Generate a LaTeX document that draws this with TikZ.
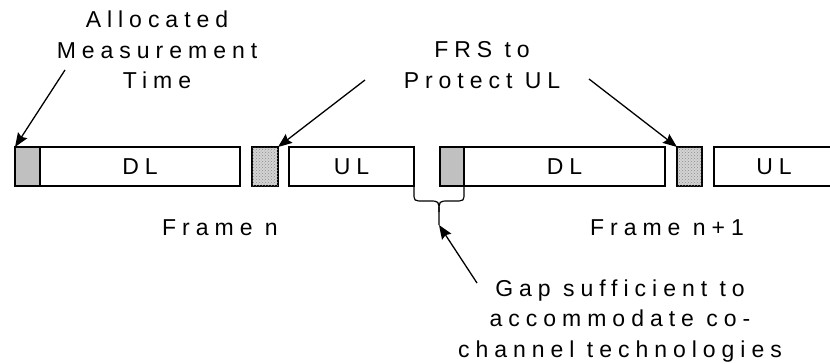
\documentclass[tikz,border=0pt]{standalone}
\usepackage{fontspec}
\setmainfont[LetterSpace=26]{Liberation Sans}
\usetikzlibrary{arrows.meta, positioning, patterns}
\definecolor{mtgray}{HTML}{C0C0C0}
\definecolor{frsgray}{HTML}{D4D4D4}

\begin{document}
\begin{tikzpicture}[x=1pt, y=-1pt, node distance=12pt, font=\fontsize{23}{30.5}\selectfont]
\tikzstyle{slot} = [rectangle, draw=black, line width=1.2pt, fill=white, inner sep=0pt, outer sep=0pt, minimum height=39pt, text centered]
\tikzstyle{mtslot} = [slot, fill=mtgray]
\tikzstyle{frsslot} = [slot, fill=frsgray, postaction={pattern=crosshatch dots, pattern color=black!45}]
\tikzstyle{note} = [align=center, inner sep=0pt]
\tikzstyle{pointer} = [line width=1.3pt, -{Stealth[length=14pt, width=11pt, inset=2pt]}]

\useasboundingbox (0,0) rectangle (830,364);

% Frame n
\node (mtone) [mtslot, minimum width=25pt, anchor=north west] at (15,147) {};
\node (dlone) [slot, minimum width=200pt, right=0pt of mtone] {DL};
\node (frsone) [frsslot, minimum width=26pt, right=12pt of dlone] {};
\node (ulone) [slot, minimum width=125pt, right=11pt of frsone] {UL};

% Frame n+1
\node (mttwo) [mtslot, minimum width=24pt, right=26pt of ulone] {};
\node (dltwo) [slot, minimum width=201pt, right=0pt of mttwo] {DL};
\node (frstwo) [frsslot, minimum width=25pt, right=12pt of dltwo] {};
\node (ultwo) [slot, minimum width=120pt, right=12pt of frstwo] {UL};

% Labels
\node (alloc) [note] at (157,50) {Allocated\\Measurement\\Time};
\node (frs) [note] at (482,65) {FRS to\\Protect UL};
\node (framen) [note] at (220,228) {Frame n};
\node (framenn) [note] at (667,228) {Frame n+1};
\node (gap) [note] at (620,321) {Gap sufficient to\\accommodate co-\\channel technologies};

% Brace under the gap
\coordinate (bracetip) at (439,225);
\draw[line width=1.2pt] (ulone.south east) -- (414,193) .. controls (414,201) .. (424,201) -- (429,201) .. controls (439,201) .. (439,212) -- (bracetip);
\draw[line width=1.2pt] (mttwo.south east) -- (464,193) .. controls (464,201) .. (454,201) -- (449,201) .. controls (439,201) .. (439,212);

% Pointers
\coordinate (alloctail) at (65,70);
\coordinate (frstaila) at (365,80);
\coordinate (frstailb) at (589,79);
\coordinate (gaptail) at (477,283);
\draw[pointer] (alloctail) -- (mtone.north west);
\draw[pointer] (frstaila) -- (frsone.north east);
\draw[pointer] (frstailb) -- (frstwo.north west);
\draw[pointer] (gaptail) -- (bracetip);

\end{tikzpicture}
\end{document}
